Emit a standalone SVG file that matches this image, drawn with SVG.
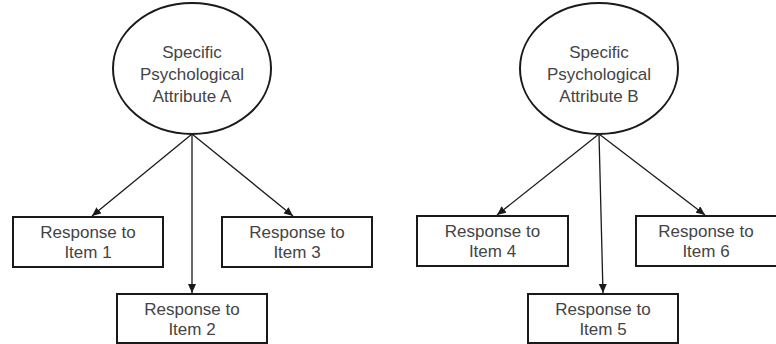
<svg xmlns="http://www.w3.org/2000/svg" width="776" height="344" viewBox="0 0 776 344">
  <style>
    .shape { fill: #ffffff; stroke: #1a1a1a; stroke-width: 2; }
    .label { font-family: "Liberation Sans", Arial, sans-serif; font-size: 17px; fill: #444444; text-anchor: middle; }
    .edge { stroke: #1a1a1a; stroke-width: 1.3; fill: none; marker-end: url(#arrow); }
  </style>
  <defs>
    <marker id="arrow" markerUnits="userSpaceOnUse" markerWidth="10" markerHeight="8" refX="9" refY="4" orient="auto">
      <path d="M0,0 L9,4 L0,8 z" fill="#1a1a1a"/>
    </marker>
  </defs>
  <rect width="776" height="344" fill="#ffffff"/>

  <g id="connectors">
    <line class="edge" x1="192" y1="134" x2="92" y2="216"/>
    <line class="edge" x1="192" y1="134" x2="192" y2="293"/>
    <line class="edge" x1="192" y1="134" x2="293" y2="216"/>
    <line class="edge" x1="599" y1="134" x2="497" y2="215"/>
    <line class="edge" x1="599" y1="134" x2="603" y2="293"/>
    <line class="edge" x1="599" y1="134" x2="705" y2="215"/>
  </g>

  <g id="attribute-a">
    <ellipse class="shape" cx="192" cy="68.5" rx="79" ry="65.5"/>
    <text class="label" x="192" y="58">Specific</text>
    <text class="label" x="192" y="80">Psychological</text>
    <text class="label" x="192" y="102">Attribute A</text>
  </g>

  <g id="attribute-b">
    <ellipse class="shape" cx="599" cy="68.5" rx="79" ry="65.5"/>
    <text class="label" x="599" y="58">Specific</text>
    <text class="label" x="599" y="80">Psychological</text>
    <text class="label" x="599" y="102">Attribute B</text>
  </g>

  <g id="item-1">
    <rect class="shape" x="13" y="217" width="150" height="50"/>
    <text class="label" x="88" y="238">Response to</text>
    <text class="label" x="88" y="258">Item 1</text>
  </g>

  <g id="item-2">
    <rect class="shape" x="117" y="294" width="150" height="49"/>
    <text class="label" x="192" y="315">Response to</text>
    <text class="label" x="192" y="335">Item 2</text>
  </g>

  <g id="item-3">
    <rect class="shape" x="222" y="217" width="150" height="50"/>
    <text class="label" x="297" y="238">Response to</text>
    <text class="label" x="297" y="258">Item 3</text>
  </g>

  <g id="item-4">
    <rect class="shape" x="417" y="216" width="151" height="50"/>
    <text class="label" x="492.5" y="237">Response to</text>
    <text class="label" x="492.5" y="257">Item 4</text>
  </g>

  <g id="item-5">
    <rect class="shape" x="528" y="294" width="150" height="49"/>
    <text class="label" x="603" y="315">Response to</text>
    <text class="label" x="603" y="335">Item 5</text>
  </g>

  <g id="item-6">
    <rect class="shape" x="636" y="216" width="150" height="50"/>
    <text class="label" x="706" y="237">Response to</text>
    <text class="label" x="706" y="257">Item 6</text>
  </g>
</svg>
